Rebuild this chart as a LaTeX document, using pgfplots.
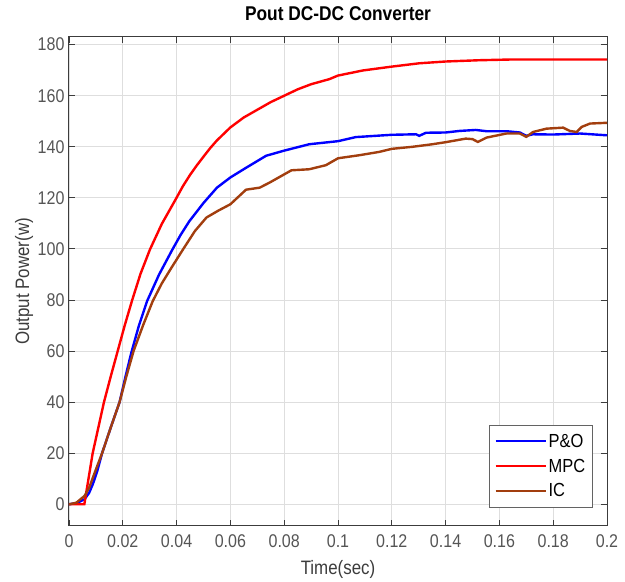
\documentclass[border=0pt]{standalone}
\usepackage{fontspec}
\setmainfont{Liberation Sans}[FakeStretch=0.87]
\usepackage{pgfplots}
\pgfplotsset{compat=1.18}
\definecolor{icbrown}{RGB}{162,62,14}
\definecolor{axgray}{RGB}{60,60,60}
\definecolor{tickgray}{RGB}{85,85,85}
\definecolor{gridgray}{RGB}{222,222,222}
\definecolor{pobl}{RGB}{0,0,255}
\definecolor{mpcred}{RGB}{255,0,0}
\begin{document}
\begin{tikzpicture}
\begin{axis}[
  scale only axis, width=538bp, height=489bp,
  xmin=0, xmax=0.2, ymin=-8.5, ymax=183,
  xtick={0,0.02,0.04,0.06,0.08,0.1,0.12,0.14,0.16,0.18,0.2},
  xticklabels={0,0.02,0.04,0.06,0.08,0.1,0.12,0.14,0.16,0.18,0.2},
  ytick={0,20,40,60,80,100,120,140,160,180},
  scaled x ticks=false,
  grid=major, major grid style={gridgray, line width=0.9bp},
  axis line style={axgray, line width=1bp},
  tick style={axgray, line width=0.9bp}, major tick length=6bp,
  tick align=inside,
  /pgf/number format/assume math mode=true,
  ticklabel style={font=\fontsize{18.5}{18.5}\selectfont, text=tickgray},
  x tick label style={yshift=-5bp},
  y tick label style={xshift=-1bp},
  xlabel={Time(sec)}, ylabel={Output Power(w)},
  xlabel style={at={(axis description cs:0.5,-0.0982)}, anchor=base, font=\fontsize{19.5}{19.5}\selectfont, text=axgray},
  ylabel style={at={(axis description cs:-0.0836,0.5)}, anchor=center, font=\fontsize{19.5}{19.5}\selectfont, text=axgray},
  title={\bfseries Pout DC-DC Converter},
  title style={at={(axis description cs:0.5,1.0225)}, anchor=base, font=\fontsize{20}{20}\selectfont},
  legend style={at={(axis description cs:0.9734,0.0374)}, anchor=south east,
    font=\fontsize{19}{19}\selectfont, draw=axgray!80, line width=1bp, fill=white,
    inner xsep=5bp, inner ysep=7bp, row sep=6bp},
  legend cell align=left,
  legend image code/.code={\draw[#1, line width=2bp] (0bp,0bp) -- (50bp,0bp);},
]
\addplot[pobl, line width=2.4bp] coordinates {
(0,0) (0.003,0.5) (0.0058,2) (0.0075,4.5) (0.0089,8) (0.0105,13) (0.0123,20) (0.0155,30) (0.0188,40)
(0.021,50) (0.0232,59.5) (0.026,70) (0.029,79.5) (0.0335,90) (0.0383,99.5) (0.0415,105.5) (0.0447,110.8) (0.05,118)
(0.055,124) (0.06,128) (0.066,131.9) (0.0733,136.5) (0.08,138.5) (0.0893,141)
(0.1,142.2) (0.1066,143.8) (0.12,144.7) (0.129,144.9) (0.1302,144.3) (0.1327,145.5)
(0.14,145.6) (0.1451,146.2) (0.1512,146.6) (0.1552,146.1) (0.1626,146.1) (0.1676,145.6)
(0.17,144.3) (0.1725,144.9) (0.18,144.8) (0.19,145.2) (0.2,144.5)
};
\addlegendentry{P\&O}
\addplot[mpcred, line width=2.4bp] coordinates {
(0,0) (0.0057,0) (0.0088,20) (0.013,40) (0.0155,50) (0.0181,60) (0.0207,70) (0.0235,80) (0.0266,90.3) (0.0301,99.8)
(0.0345,109.8) (0.0398,119.7) (0.0423,124.5) (0.045,129) (0.0475,132.7) (0.0499,136) (0.0525,139.5) (0.055,142.5) (0.06,147.6) (0.065,151.5) (0.07,154.5)
(0.075,157.5) (0.08,160) (0.085,162.5) (0.09,164.5) (0.0968,166.5) (0.1,167.9) (0.1093,169.9) (0.12,171.4)
(0.1302,172.7) (0.14,173.4) (0.1525,173.9) (0.165,174.2) (0.2,174.2)
};
\addlegendentry{MPC}
\addplot[icbrown, line width=2.4bp] coordinates {
(0,0) (0.0027,0.6) (0.0058,3.3) (0.0075,6.5) (0.0089,10.5) (0.0105,15) (0.0123,20) (0.0155,30) (0.0188,40) (0.0213,50) (0.024,60)
(0.0275,70) (0.0311,79.5) (0.0345,86.5) (0.038,92.5) (0.0425,100) (0.0468,107) (0.0511,112.3) (0.0555,115) (0.06,117.5)
(0.0658,123.2) (0.0709,124) (0.0746,126) (0.0827,130.8) (0.0893,131.2) (0.0955,132.8)
(0.1,135.5) (0.1079,136.7) (0.1153,138) (0.12,139.2) (0.1277,140) (0.1351,141)
(0.14,141.8) (0.1475,143.2) (0.15,143) (0.152,141.9) (0.1552,143.6) (0.1626,145.2)
(0.1676,145.2) (0.17,143.9) (0.1725,145.8) (0.1775,147.1) (0.1837,147.5) (0.1862,146.2)
(0.1887,145.8) (0.1906,147.8) (0.1937,149.1) (0.2,149.4)
};
\addlegendentry{IC}
\end{axis}
\path ([shift={(-69bp,-54bp)}]current axis.south west) rectangle ([shift={(18bp,37bp)}]current axis.north east);
\end{tikzpicture}
\end{document}
